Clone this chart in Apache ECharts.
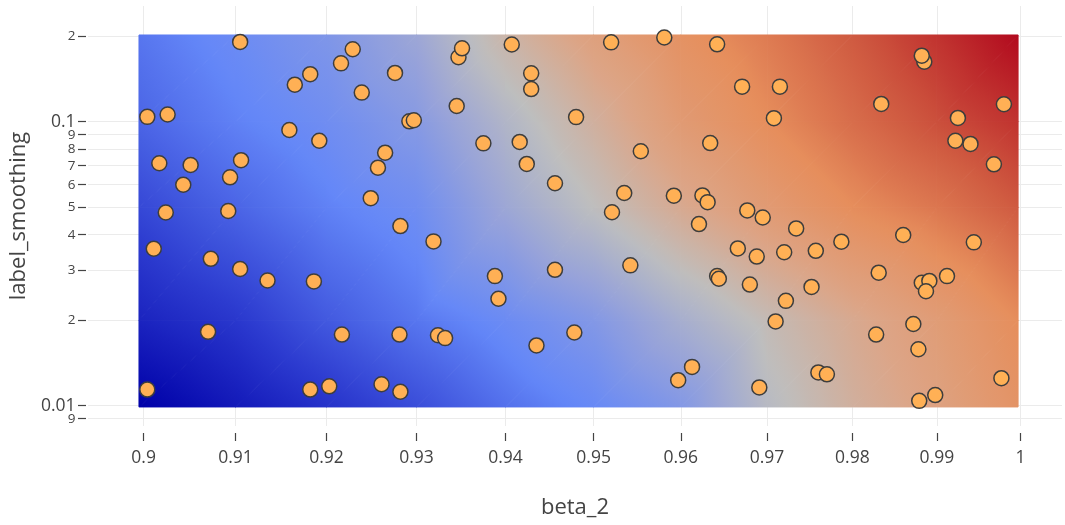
<!DOCTYPE html>
<html>
<head>
<meta charset="utf-8">
<script src="https://cdn.jsdelivr.net/npm/echarts/dist/echarts.min.js"></script>
<style>
html,body{margin:0;padding:0;background:#fff;}
#chart{width:1065px;height:525px;}
</style>
</head>
<body>
<div id="chart"></div>
<script>
// ---- data ----
const beta2 = [0.9004,0.9026,0.9017,0.9051,0.9043,0.9024,0.9094,0.9106,0.9092,0.9105,0.9165,0.9182,0.9216,0.9229,0.9159,0.9192,0.9239,0.9276,0.9265,0.9257,0.9249,0.9292,0.9297,0.9345,0.9347,0.9351,0.9407,0.9429,0.9429,0.9375,0.9416,0.9424,0.9456,0.948,
0.9282,0.9319,0.9011,0.9073,0.9105,0.9135,0.9186,0.9388,0.9392,0.9456,0.907,0.9217,0.9281,0.9324,0.9332,0.9435,0.9478,0.9004,0.9182,0.9203,0.9261,0.9282,
0.952,0.9581,0.9642,0.9885,0.9882,0.9671,0.9715,0.9834,0.998,0.9925,0.9708,0.9922,0.994,0.9968,0.9634,0.9554,0.9535,0.9592,0.9625,0.9631,0.9521,0.9677,0.9695,0.9621,0.9734,0.9787,0.986,0.9944,0.9666,0.9688,0.972,0.9757,0.9542,0.9642,0.9644,0.968,0.9752,0.9831,0.9882,0.9891,0.9887,0.9912,0.9722,0.971,0.9872,0.9828,0.9878,0.9613,0.9597,0.9691,0.976,0.977,0.9977,0.9898,0.9879];
const labelSmoothing = [0.104,0.106,0.0714,0.0704,0.060,0.0479,0.0637,0.0732,0.0485,0.191,0.135,0.147,0.1605,0.180,0.0935,0.0857,0.1266,0.1485,0.0778,0.0689,0.0538,0.1003,0.1012,0.1136,0.1686,0.1813,0.187,0.148,0.1303,0.0839,0.0849,0.071,0.0607,0.1038,
0.0429,0.0379,0.0357,0.0329,0.0303,0.0276,0.0274,0.0286,0.0238,0.0301,0.0182,0.0178,0.0178,0.0177,0.0173,0.0163,0.0181,0.0114,0.0114,0.0117,0.0119,0.0112,
0.1903,0.198,0.1873,0.1627,0.1708,0.1329,0.1329,0.1155,0.1152,0.1031,0.1029,0.0857,0.0835,0.0708,0.0841,0.0787,0.0561,0.0549,0.055,0.0521,0.048,0.0487,0.046,0.0436,0.0421,0.0378,0.0399,0.0376,0.0358,0.0335,0.0347,0.0351,0.0312,0.0286,0.028,0.0267,0.0262,0.0294,0.0271,0.0275,0.0253,0.0286,0.0234,0.0198,0.0194,0.0178,0.0158,0.0137,0.0123,0.0116,0.0131,0.0129,0.0125,0.0109,0.0104];

// background surface (grid nodes, values bottom row first)
const hmX = [0.8995,0.91,0.92,0.93,0.94,0.95,0.96,0.97,0.98,0.99,0.9997];
const hmY = [0.0099,0.02,0.05,0.1,0.202];
const hmZ = [
  [0.00,0.05,0.10,0.15,0.21,0.26,0.33,0.48,0.57,0.64,0.72],
  [0.07,0.11,0.17,0.22,0.27,0.33,0.43,0.52,0.60,0.67,0.75],
  [0.14,0.19,0.24,0.28,0.40,0.50,0.60,0.68,0.75,0.80,0.86],
  [0.19,0.24,0.28,0.34,0.46,0.57,0.68,0.75,0.82,0.88,0.93],
  [0.22,0.27,0.32,0.40,0.55,0.65,0.73,0.79,0.86,0.93,1.00]
];

// ticks
const xTickValues = [0.9,0.91,0.92,0.93,0.94,0.95,0.96,0.97,0.98,0.99,1];
const xTickLabels = ['0.9','0.91','0.92','0.93','0.94','0.95','0.96','0.97','0.98','0.99','1'];
const yTickValues = [0.01,0.02,0.03,0.04,0.05,0.06,0.07,0.08,0.09,0.1,0.2];
const yTickLabels = ['0.01','2','3','4','5','6','7','8','9','0.1','2'];
const yLowTickValues = [0.009];
const yLowTickLabels = ['9'];

// ---- style ----
const csStops = [0,0.12,0.25,0.38,0.5,0.62,0.75,0.87,1];
const csColors = [[0,0,168],[45,60,208],[100,135,248],[150,162,218],[190,190,190],[220,165,135],[230,142,92],[205,85,62],[178,10,30]];
const FONT = '"Open Sans", sans-serif';
const TXT = '#444';
const Y_MIN = 0.008483, Y_MAX = 0.25553;

function colorAt(v){
  v = Math.max(0, Math.min(1, v));
  for (let k = 1; k < csStops.length; k++) {
    if (v <= csStops[k]) {
      const t = (v - csStops[k-1]) / (csStops[k] - csStops[k-1]);
      const a = csColors[k-1], b = csColors[k];
      return 'rgb(' + Math.round(a[0]+(b[0]-a[0])*t) + ',' + Math.round(a[1]+(b[1]-a[1])*t) + ',' + Math.round(a[2]+(b[2]-a[2])*t) + ')';
    }
  }
  const c = csColors[csColors.length-1];
  return 'rgb(' + c.join(',') + ')';
}

function triangle(pts, vals){
  const p1 = pts[0], p2 = pts[1], p3 = pts[2];
  const v1 = vals[0], v2 = vals[1], v3 = vals[2];
  const d2x = p2[0]-p1[0], d2y = p2[1]-p1[1], d3x = p3[0]-p1[0], d3y = p3[1]-p1[1];
  const dv2 = v2-v1, dv3 = v3-v1;
  const det = d2x*d3y - d2y*d3x;
  const vmin = Math.min(v1,v2,v3), vmax = Math.max(v1,v2,v3);
  let fill;
  if (Math.abs(det) < 1e-9 || vmax - vmin < 1e-6) {
    fill = colorAt(v1);
  } else {
    const gx = (dv2*d3y - dv3*d2y)/det, gy = (d2x*dv3 - d3x*dv2)/det;
    const g2 = gx*gx + gy*gy;
    const x0 = p1[0] + gx*(vmin-v1)/g2, y0 = p1[1] + gy*(vmin-v1)/g2;
    const x1 = p1[0] + gx*(vmax-v1)/g2, y1 = p1[1] + gy*(vmax-v1)/g2;
    const stops = [];
    const N = 10;
    for (let k = 0; k <= N; k++) stops.push({offset: k/N, color: colorAt(vmin + (vmax-vmin)*k/N)});
    fill = new echarts.graphic.LinearGradient(x0, y0, x1, y1, stops, true);
  }
  return {type: 'polygon', shape: {points: pts}, style: {fill: fill, stroke: fill, lineWidth: 1}};
}

const cells = [];
for (let j = 0; j < hmY.length - 1; j++) {
  for (let i = 0; i < hmX.length - 1; i++) {
    cells.push([hmX[i], hmY[j], i, j]);
  }
}

function renderCell(params, api){
  const i = api.value(2), j = api.value(3);
  const bl = api.coord([hmX[i], hmY[j]]);
  const br = api.coord([hmX[i+1], hmY[j]]);
  const tl = api.coord([hmX[i], hmY[j+1]]);
  const tr = api.coord([hmX[i+1], hmY[j+1]]);
  const vbl = hmZ[j][i], vbr = hmZ[j][i+1], vtl = hmZ[j+1][i], vtr = hmZ[j+1][i+1];
  return {
    type: 'group',
    children: [
      triangle([bl, br, tr], [vbl, vbr, vtr]),
      triangle([bl, tr, tl], [vbl, vtr, vtl])
    ]
  };
}

function labelFor(values, labels, v){
  for (let k = 0; k < values.length; k++) {
    if (Math.abs(values[k] - v) <= values[k]*1e-6) return labels[k];
  }
  return '';
}

function yAxisDef(vals, labs, withName){
  const ax = {
    type: 'log',
    min: Y_MIN,
    max: Y_MAX,
    offset: 2,
    position: 'left',
    axisLine: {show: true, lineStyle: {color: 'rgba(0,0,0,0)'}},
    axisTick: {show: true, length: 8, customValues: vals, lineStyle: {color: TXT, width: 1.2}},
    axisLabel: {
      customValues: vals,
      margin: 10.5,
      color: TXT,
      fontFamily: FONT,
      showMinLabel: true,
      showMaxLabel: true,
      hideOverlap: false,
      formatter: function(v){
        const s = labelFor(vals, labs, v);
        return s.indexOf('.') >= 0 ? '{b|' + s + '}' : '{s|' + s + '}';
      },
      rich: {
        b: {fontSize: 17.5, color: TXT, fontFamily: FONT},
        s: {fontSize: 13.5, color: TXT, fontFamily: FONT}
      }
    },
    splitLine: {show: true, lineStyle: {color: '#ebebeb', width: 1}},
    minorTick: {show: false},
    minorSplitLine: {show: false}
  };
  if (withName) {
    ax.name = 'label_smoothing';
    ax.nameLocation = 'middle';
    ax.nameGap = 54;
    ax.nameTextStyle = {fontSize: 22, color: TXT, fontFamily: FONT};
  }
  return ax;
}

const chart = echarts.init(document.getElementById('chart'), null, {renderer: 'canvas'});
chart.setOption({
  animation: false,
  backgroundColor: '#fff',
  textStyle: {fontFamily: FONT},
  grid: {left: 86, right: 3, top: 6, bottom: 99, containLabel: false},
  xAxis: {
    type: 'log',
    min: 0.89401,
    max: 1.00499,
    offset: 7,
    axisLine: {show: true, lineStyle: {color: 'rgba(0,0,0,0)'}},
    axisTick: {show: true, length: 8, customValues: xTickValues, lineStyle: {color: TXT, width: 1.2}},
    axisLabel: {
      customValues: xTickValues,
      margin: 16,
      fontSize: 17.5,
      color: TXT,
      fontFamily: FONT,
      showMinLabel: true,
      showMaxLabel: true,
      hideOverlap: false,
      formatter: function(v){ return labelFor(xTickValues, xTickLabels, v); }
    },
    splitLine: {show: true, lineStyle: {color: '#ebebeb', width: 1}},
    minorTick: {show: false},
    minorSplitLine: {show: false},
    name: 'beta_2',
    nameLocation: 'middle',
    nameGap: 64,
    nameTextStyle: {fontSize: 22, color: TXT, fontFamily: FONT}
  },
  yAxis: [
    yAxisDef(yTickValues, yTickLabels, true),
    yAxisDef(yLowTickValues, yLowTickLabels, false)
  ],
  series: [
    {
      type: 'custom',
      renderItem: renderCell,
      data: cells,
      encode: {x: 0, y: 1},
      yAxisIndex: 0,
      clip: false,
      silent: true,
      z: 1
    },
    {
      type: 'scatter',
      yAxisIndex: 0,
      data: beta2.map(function(x, k){ return [x, labelSmoothing[k]]; }),
      symbol: 'circle',
      symbolSize: 15,
      itemStyle: {color: '#FFB055', borderColor: '#3d3d3d', borderWidth: 1.5, opacity: 1},
      z: 3
    }
  ]
});
</script>
</body>
</html>
